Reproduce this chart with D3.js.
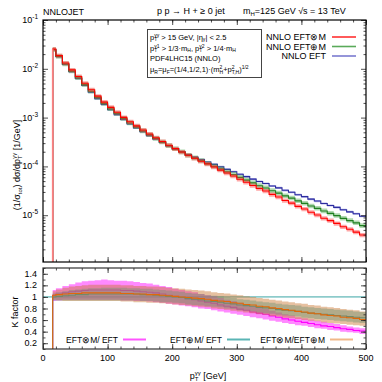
<!DOCTYPE html>
<html>
<head>
<meta charset="utf-8">
<script src="https://cdn.jsdelivr.net/npm/d3@7"></script>
<style>
body { margin: 0; background: #fff; }
text { font-family: "Liberation Sans", Arial, sans-serif; fill: #000; }
</style>
</head>
<body>
<script>
// bin edges in GeV (first bin starts at the 15 GeV cut)
const binEdges = [15, 20, 30, 40, 50, 60, 70, 80, 90, 100, 110, 120, 130, 140, 150, 160, 170, 180, 190, 200,
  210, 220, 230, 240, 250, 260, 270, 280, 290, 300, 310, 320, 330, 340, 350, 360, 370, 380, 390, 400,
  410, 420, 430, 440, 450, 460, 470, 480, 490, 500];

// normalised distributions (1/GeV)
const nnloEFT = [0.02455, 0.01778, 0.01230, 0.00871, 0.00631, 0.00457, 0.00331, 0.00245, 0.00186, 0.00145,
  0.00115, 9.12e-4, 7.41e-4, 6.17e-4, 5.13e-4, 4.27e-4, 3.63e-4, 3.09e-4, 2.63e-4, 2.29e-4,
  2.00e-4, 1.74e-4, 1.55e-4, 1.38e-4, 1.23e-4, 1.10e-4, 9.77e-5, 8.71e-5, 7.76e-5, 6.92e-5,
  6.17e-5, 5.50e-5, 4.90e-5, 4.47e-5, 3.98e-5, 3.63e-5, 3.24e-5, 2.95e-5, 2.63e-5, 2.40e-5,
  2.14e-5, 1.95e-5, 1.74e-5, 1.58e-5, 1.45e-5, 1.29e-5, 1.17e-5, 1.07e-5, 9.55e-6];
const nnloEFTplusM = [0.02455, 0.01796, 0.01256, 0.00897, 0.00656, 0.00475, 0.00348, 0.00258, 0.00195, 0.00152,
  0.00121, 9.58e-4, 7.78e-4, 6.47e-4, 5.33e-4, 4.44e-4, 3.74e-4, 3.15e-4, 2.66e-4, 2.29e-4,
  1.98e-4, 1.69e-4, 1.49e-4, 1.31e-4, 1.14e-4, 1.01e-4, 8.89e-5, 7.75e-5, 6.83e-5, 5.95e-5,
  5.24e-5, 4.61e-5, 4.02e-5, 3.61e-5, 3.18e-5, 2.83e-5, 2.49e-5, 2.24e-5, 1.97e-5, 1.75e-5,
  1.54e-5, 1.38e-5, 1.22e-5, 1.09e-5, 9.82e-6, 8.63e-6, 7.75e-6, 6.97e-6, 6.11e-6];
const nnloEFTtimesM = [0.0253, 0.01866, 0.01316, 0.00949, 0.00694, 0.00507, 0.00371, 0.00275, 0.00208, 0.00162,
  0.00129, 0.00101, 8.23e-4, 6.78e-4, 5.59e-4, 4.61e-4, 3.88e-4, 3.24e-4, 2.71e-4, 2.31e-4,
  1.98e-4, 1.69e-4, 1.47e-4, 1.28e-4, 1.12e-4, 9.75e-5, 8.40e-5, 7.31e-5, 6.37e-5, 5.47e-5,
  4.75e-5, 4.06e-5, 3.52e-5, 3.13e-5, 2.67e-5, 2.36e-5, 2.00e-5, 1.77e-5, 1.52e-5, 1.34e-5,
  1.15e-5, 1.01e-5, 8.69e-6, 7.76e-6, 6.79e-6, 5.80e-6, 5.17e-6, 4.50e-6, 3.92e-6];

// scale band (down / up factors) of each distribution
const bandEFT = [0.95, 1.05];
const bandEFTplusM = [0.9, 1.12];
const bandEFTtimesM = [0.9, 1.1];

// K factors: EFT⊗M / EFT
const kXM = [1.03, 1.05, 1.07, 1.09, 1.10, 1.11, 1.12, 1.12, 1.12, 1.12, 1.12, 1.11, 1.11, 1.10, 1.09, 1.08, 1.07, 1.05, 1.03, 1.01,
  0.99, 0.97, 0.95, 0.93, 0.91, 0.89, 0.86, 0.84, 0.82, 0.79, 0.77, 0.74, 0.72, 0.70, 0.67, 0.65, 0.62, 0.60, 0.58, 0.56,
  0.54, 0.52, 0.50, 0.49, 0.47, 0.45, 0.44, 0.42, 0.41];
const kXMlo = [0.93, 0.94, 0.95, 0.95, 0.95, 0.95, 0.95, 0.95, 0.95, 0.95, 0.95, 0.94, 0.94, 0.93, 0.93, 0.92, 0.91, 0.90, 0.88, 0.87,
  0.85, 0.84, 0.82, 0.80, 0.79, 0.77, 0.75, 0.73, 0.71, 0.69, 0.67, 0.65, 0.63, 0.61, 0.59, 0.57, 0.55, 0.53, 0.51, 0.50,
  0.48, 0.46, 0.45, 0.43, 0.42, 0.40, 0.39, 0.38, 0.36];
const kXMhi = [1.12, 1.15, 1.19, 1.22, 1.25, 1.27, 1.28, 1.29, 1.30, 1.29, 1.28, 1.28, 1.27, 1.26, 1.24, 1.23, 1.21, 1.19, 1.17, 1.14,
  1.12, 1.10, 1.08, 1.05, 1.03, 1.01, 0.98, 0.95, 0.93, 0.90, 0.87, 0.84, 0.82, 0.79, 0.76, 0.73, 0.70, 0.68, 0.65, 0.63,
  0.61, 0.59, 0.57, 0.55, 0.53, 0.51, 0.49, 0.47, 0.46];

// K factors: EFT⊕M / EFT
const kPM = [1.00, 1.01, 1.02, 1.03, 1.04, 1.04, 1.05, 1.05, 1.05, 1.05, 1.05, 1.05, 1.05, 1.05, 1.04, 1.04, 1.03, 1.02, 1.01, 1.00,
  0.99, 0.97, 0.96, 0.95, 0.93, 0.92, 0.91, 0.89, 0.88, 0.86, 0.85, 0.84, 0.82, 0.81, 0.80, 0.78, 0.77, 0.76, 0.75, 0.73,
  0.72, 0.71, 0.70, 0.69, 0.68, 0.67, 0.66, 0.65, 0.64];
const kPMlo = [0.94, 0.94, 0.94, 0.94, 0.94, 0.94, 0.94, 0.94, 0.94, 0.94, 0.94, 0.94, 0.94, 0.94, 0.93, 0.93, 0.92, 0.91, 0.91, 0.90,
  0.89, 0.87, 0.86, 0.85, 0.84, 0.83, 0.82, 0.80, 0.79, 0.77, 0.76, 0.75, 0.73, 0.72, 0.71, 0.69, 0.68, 0.67, 0.66, 0.64,
  0.63, 0.62, 0.61, 0.60, 0.59, 0.58, 0.57, 0.56, 0.55];
const kPMhi = [1.06, 1.08, 1.10, 1.12, 1.13, 1.14, 1.15, 1.15, 1.16, 1.16, 1.16, 1.16, 1.15, 1.15, 1.14, 1.14, 1.13, 1.12, 1.11, 1.10,
  1.09, 1.07, 1.06, 1.05, 1.03, 1.02, 1.01, 0.99, 0.98, 0.96, 0.95, 0.94, 0.92, 0.91, 0.90, 0.88, 0.87, 0.86, 0.85, 0.83,
  0.82, 0.81, 0.80, 0.79, 0.78, 0.77, 0.76, 0.75, 0.74];

// K factors: EFT⊗M / EFT⊕M
const kXP = [1.03, 1.04, 1.05, 1.06, 1.06, 1.07, 1.07, 1.07, 1.07, 1.07, 1.07, 1.06, 1.06, 1.05, 1.05, 1.04, 1.04, 1.03, 1.02, 1.01,
  1.00, 0.99, 0.98, 0.97, 0.96, 0.94, 0.93, 0.92, 0.90, 0.89, 0.87, 0.86, 0.84, 0.83, 0.81, 0.80, 0.78, 0.77, 0.75, 0.74,
  0.72, 0.71, 0.69, 0.68, 0.67, 0.65, 0.64, 0.63, 0.61];
const kXPlo = [0.95, 0.94, 0.93, 0.93, 0.93, 0.93, 0.93, 0.93, 0.93, 0.93, 0.93, 0.92, 0.92, 0.91, 0.91, 0.90, 0.90, 0.89, 0.88, 0.87,
  0.86, 0.85, 0.84, 0.83, 0.82, 0.80, 0.79, 0.78, 0.76, 0.75, 0.73, 0.72, 0.70, 0.69, 0.67, 0.66, 0.64, 0.63, 0.62, 0.60,
  0.59, 0.58, 0.56, 0.55, 0.54, 0.53, 0.52, 0.51, 0.50];
const kXPhi = [1.10, 1.13, 1.16, 1.18, 1.19, 1.20, 1.21, 1.21, 1.21, 1.21, 1.21, 1.20, 1.20, 1.19, 1.19, 1.18, 1.18, 1.17, 1.16, 1.15,
  1.14, 1.13, 1.12, 1.11, 1.10, 1.08, 1.07, 1.06, 1.04, 1.03, 1.01, 1.00, 0.98, 0.97, 0.95, 0.94, 0.92, 0.91, 0.89, 0.88,
  0.86, 0.85, 0.83, 0.82, 0.81, 0.79, 0.78, 0.77, 0.75];

const xTicks = [0, 100, 200, 300, 400, 500];
const yTopDecades = [-1, -2, -3, -4, -5];
const kTicks = [0.2, 0.4, 0.6, 0.8, 1, 1.2, 1.4];

const W = 382, H = 382;
const left = 43, right = 366;
const top1 = 20, bot1 = 262, top2 = 268, bot2 = 349;

var svg = d3.select("body").append("svg")
    .attr("width", W)
    .attr("height", H);
svg.append("rect").attr("width", W).attr("height", H).attr("fill", "#fff");

const x = d3.scaleLinear().domain([0, 500]).range([left, right]);
const yTop = d3.scaleLog().domain([1.1e-6, 0.1]).range([bot1, top1]);
const yLow = d3.scaleLinear().domain([0.1, 1.5]).range([bot2, top2]);

const defs = svg.append("defs");
defs.append("clipPath").attr("id", "clipTop").append("rect")
    .attr("x", left).attr("y", top1).attr("width", right - left).attr("height", bot1 - top1);
defs.append("clipPath").attr("id", "clipLow").append("rect")
    .attr("x", left).attr("y", top2).attr("width", right - left).attr("height", bot2 - top2);

// step points: one per bin plus the closing edge
function steps(vals) {
    let p = vals.map((v, i) => [binEdges[i], v]);
    p.push([binEdges[binEdges.length - 1], vals[vals.length - 1]]);
    return p;
}
function bandSteps(lo, hi) {
    let p = lo.map((v, i) => [binEdges[i], v, hi[i]]);
    p.push([binEdges[binEdges.length - 1], lo[lo.length - 1], hi[hi.length - 1]]);
    return p;
}

// ---------- top panel ----------
const gTop = svg.append("g").attr("clip-path", "url(#clipTop)");
const lineTop = d3.line().x(d => x(d[0])).y(d => yTop(d[1])).curve(d3.curveStepAfter);
const areaTop = d3.area().x(d => x(d[0])).y0(d => yTop(d[1])).y1(d => yTop(d[2])).curve(d3.curveStepAfter);

const topSeries = [
    { vals: nnloEFT, band: bandEFT, line: "#2b2b9e", fill: "rgba(90,90,210,0.45)" },
    { vals: nnloEFTplusM, band: bandEFTplusM, line: "#1f7f1f", fill: "rgba(80,170,80,0.45)" },
    { vals: nnloEFTtimesM, band: bandEFTtimesM, line: "#ff0000", fill: "rgba(255,60,60,0.45)" }
];
topSeries.forEach(s => {
    let lo = s.vals.map(v => v * s.band[0]);
    let hi = s.vals.map(v => v * s.band[1]);
    gTop.append("path").datum(bandSteps(lo, hi)).attr("d", areaTop).attr("fill", s.fill);
    gTop.append("path").datum([[binEdges[0], 1e-8]].concat(steps(s.vals)))
        .attr("d", lineTop).attr("fill", "none").attr("stroke", s.line).attr("stroke-width", 1.1);
});
// the first bin edge shows as a light red line down to the bottom
gTop.append("line")
    .attr("x1", x(binEdges[0])).attr("x2", x(binEdges[0]))
    .attr("y1", bot1).attr("y2", yTop(nnloEFTtimesM[0]))
    .attr("stroke", "#ff8080").attr("stroke-width", 1.6);

// ---------- lower panel ----------
const gLow = svg.append("g").attr("clip-path", "url(#clipLow)");
const lineLow = d3.line().x(d => x(d[0])).y(d => yLow(d[1])).curve(d3.curveStepAfter);
const areaLow = d3.area().x(d => x(d[0])).y0(d => yLow(d[1])).y1(d => yLow(d[2])).curve(d3.curveStepAfter);

gLow.append("line")
    .attr("x1", x(0)).attr("x2", x(500)).attr("y1", yLow(1)).attr("y2", yLow(1))
    .attr("stroke", "#3aa6a6").attr("stroke-width", 1);

const lowSeries = [
    { c: kXM, lo: kXMlo, hi: kXMhi, line: "#ff00ff", fill: "rgba(255,40,255,0.55)" },
    { c: kPM, lo: kPMlo, hi: kPMhi, line: "#2a9d9d", fill: "rgba(40,170,170,0.45)" },
    { c: kXP, lo: kXPlo, hi: kXPhi, line: "#e0680a", fill: "rgba(200,115,45,0.45)" }
];
lowSeries.forEach(s => {
    gLow.append("path").datum(bandSteps(s.lo, s.hi)).attr("d", areaLow).attr("fill", s.fill);
    gLow.append("path").datum([[binEdges[0], 0]].concat(steps(s.c)))
        .attr("d", lineLow).attr("fill", "none").attr("stroke", s.line).attr("stroke-width", 1.1);
});

// ---------- ticks and frames ----------
const xMinor = d3.range(0, 501, 20);
function xAxes(y0, y1) {
    svg.append("g").attr("transform", `translate(0,${y1})`)
        .call(d3.axisBottom(x).tickValues(xMinor).tickSize(-2.5).tickFormat(""));
    svg.append("g").attr("transform", `translate(0,${y1})`)
        .call(d3.axisBottom(x).tickValues(xTicks).tickSize(-5).tickFormat(""));
    svg.append("g").attr("transform", `translate(0,${y0})`)
        .call(d3.axisTop(x).tickValues(xMinor).tickSize(-2.5).tickFormat(""));
    svg.append("g").attr("transform", `translate(0,${y0})`)
        .call(d3.axisTop(x).tickValues(xTicks).tickSize(-5).tickFormat(""));
}
xAxes(top1, bot1);
xAxes(top2, bot2);

const yMajor = yTopDecades.map(k => Math.pow(10, k));
let yMinor = [];
for (let k = -6; k <= -2; k++) {
    for (let m = 2; m <= 9; m++) yMinor.push(m * Math.pow(10, k));
}
yMinor = yMinor.filter(v => v >= 1.1e-6 && v <= 0.1);
[[d3.axisLeft, left], [d3.axisRight, right]].forEach(([ax, px]) => {
    svg.append("g").attr("transform", `translate(${px},0)`)
        .call(ax(yTop).tickValues(yMinor).tickSize(-2.5).tickFormat(""));
    svg.append("g").attr("transform", `translate(${px},0)`)
        .call(ax(yTop).tickValues(yMajor).tickSize(-5).tickFormat(""));
    svg.append("g").attr("transform", `translate(${px},0)`)
        .call(ax(yLow).tickValues(d3.range(0.1, 1.51, 0.1)).tickSize(-2.5).tickFormat(""));
    svg.append("g").attr("transform", `translate(${px},0)`)
        .call(ax(yLow).tickValues(kTicks).tickSize(-5).tickFormat(""));
});
svg.selectAll(".domain").remove();
svg.selectAll(".tick line").attr("stroke", "#222").attr("stroke-width", 0.8);

svg.append("rect").attr("x", left).attr("y", top1).attr("width", right - left).attr("height", bot1 - top1)
    .attr("fill", "none").attr("stroke", "#000").attr("stroke-width", 1.2);
svg.append("rect").attr("x", left).attr("y", top2).attr("width", right - left).attr("height", bot2 - top2)
    .attr("fill", "none").attr("stroke", "#333").attr("stroke-width", 1.2);

// ---------- tick labels ----------
yTopDecades.forEach(k => {
    const t = svg.append("text").attr("x", 38).attr("y", yTop(Math.pow(10, k)) + 3)
        .attr("text-anchor", "end").attr("font-size", 9);
    t.append("tspan").text("10");
    t.append("tspan").attr("dy", -4).attr("font-size", 6.5).text(String(k));
});
kTicks.forEach(v => {
    svg.append("text").attr("x", 37).attr("y", yLow(v) + 3).attr("text-anchor", "end")
        .attr("font-size", 9).text(v === 1 ? "1" : v.toFixed(1));
});
xTicks.forEach(v => {
    svg.append("text").attr("x", x(v)).attr("y", 361).attr("text-anchor", "middle")
        .attr("font-size", 9).text(v);
});

// p_T with a stacked superscript, then the rest of the text back on the baseline
function ptSym(t, sup, after, fs) {
    const s = fs * 0.67;
    t.append("tspan").text("p");
    t.append("tspan").attr("dy", fs * 0.22).attr("font-size", s).text("T");
    t.append("tspan").attr("dx", -fs * 0.4).attr("dy", -fs * 0.62).attr("font-size", s).text(sup);
    t.append("tspan").attr("dy", fs * 0.4).text(after);
}
// a subscript followed by normal text
function sub(t, s, after, fs) {
    t.append("tspan").attr("dy", fs * 0.22).attr("font-size", fs * 0.67).text(s);
    t.append("tspan").attr("dy", -fs * 0.22).text(after);
}

// ---------- axis titles ----------
const xt = svg.append("text").attr("x", 208).attr("y", 379).attr("text-anchor", "middle").attr("font-size", 9);
ptSym(xt, "γγ", " [GeV]", 9);

const yt = svg.append("text").attr("transform", "translate(20,165) rotate(-90)")
    .attr("text-anchor", "middle").attr("font-size", 9);
yt.append("tspan").text("(1/σ");
sub(yt, "tot", ") dσ/d", 9);
ptSym(yt, "γγ", " [1/GeV]", 9);

svg.append("text").attr("transform", "translate(18,312) rotate(-90)")
    .attr("text-anchor", "middle").attr("font-size", 9).text("K factor");

// ---------- header ----------
svg.append("text").attr("x", 43).attr("y", 15).attr("font-size", 9).text("NNLOJET");
svg.append("text").attr("x", 157).attr("y", 14).attr("font-size", 9).text("p p → H + ≥ 0 jet");
const hm = svg.append("text").attr("x", 243).attr("y", 14).attr("font-size", 9);
hm.append("tspan").text("m");
sub(hm, "H", "=125 GeV  √s  = 13 TeV", 9);

// ---------- info box ----------
svg.append("rect").attr("x", 147.5).attr("y", 29.5).attr("width", 114).attr("height", 48)
    .attr("fill", "#fff").attr("stroke", "#444").attr("stroke-width", 1);
const info = svg.append("g").attr("font-size", 7.5);
const fsI = 7.5;
let l1 = info.append("text").attr("x", 150).attr("y", 39.5);
ptSym(l1, "γγ", " > 15 GeV, |η", fsI);
sub(l1, "γ", "| < 2.5", fsI);
let l2 = info.append("text").attr("x", 150).attr("y", 50.5);
ptSym(l2, "γ1", " > 1/3·m", fsI);
sub(l2, "H", ", ", fsI);
ptSym(l2, "γ2", " > 1/4·m", fsI);
sub(l2, "H", "", fsI);
info.append("text").attr("x", 150).attr("y", 61).text("PDF4LHC15 (NNLO)");
let l4 = info.append("text").attr("x", 150).attr("y", 72);
l4.append("tspan").text("μ");
sub(l4, "R", "=μ", fsI);
sub(l4, "F", "=(1/4,1/2,1)·(m", fsI);
l4.append("tspan").attr("dy", -3.5).attr("font-size", 5).text("2");
l4.append("tspan").attr("dx", -2.8).attr("dy", 5.2).attr("font-size", 5).text("H");
l4.append("tspan").attr("dy", -1.7).text("+p");
l4.append("tspan").attr("dy", -3.5).attr("font-size", 5).text("2");
l4.append("tspan").attr("dx", -2.8).attr("dy", 5.2).attr("font-size", 5).text("T,H");
l4.append("tspan").attr("dy", -1.7).text(")");
l4.append("tspan").attr("dy", -3.5).attr("font-size", 5).text("1/2");

// ---------- legends ----------
const topLegend = [
    { label: "NNLO EFT⊗M", color: "#ff3030" },
    { label: "NNLO EFT⊕M", color: "#5aaa5a" },
    { label: "NNLO EFT", color: "#7a7ad0" }
];
topLegend.forEach((d, i) => {
    const yy = 37 + i * 9.5;
    svg.append("text").attr("x", 326).attr("y", yy + 3.2).attr("text-anchor", "end")
        .attr("font-size", 9).text(d.label);
    svg.append("line").attr("x1", 332).attr("x2", 356).attr("y1", yy).attr("y2", yy)
        .attr("stroke", d.color).attr("stroke-width", 1.6);
});

const lowLegend = [
    { label: "EFT⊗M/ EFT", color: "#ff55ff", x0: 123 },
    { label: "EFT⊕M/ EFT", color: "#5ab5b5", x0: 227 },
    { label: "EFT⊗M/EFT⊕M", color: "#f0b888", x0: 330 }
];
lowLegend.forEach(d => {
    svg.append("text").attr("x", d.x0 - 5).attr("y", 342.5).attr("text-anchor", "end")
        .attr("font-size", 8.5).text(d.label);
    svg.append("line").attr("x1", d.x0).attr("x2", d.x0 + 23).attr("y1", 339.5).attr("y2", 339.5)
        .attr("stroke", d.color).attr("stroke-width", 2);
});
</script>
</body>
</html>
